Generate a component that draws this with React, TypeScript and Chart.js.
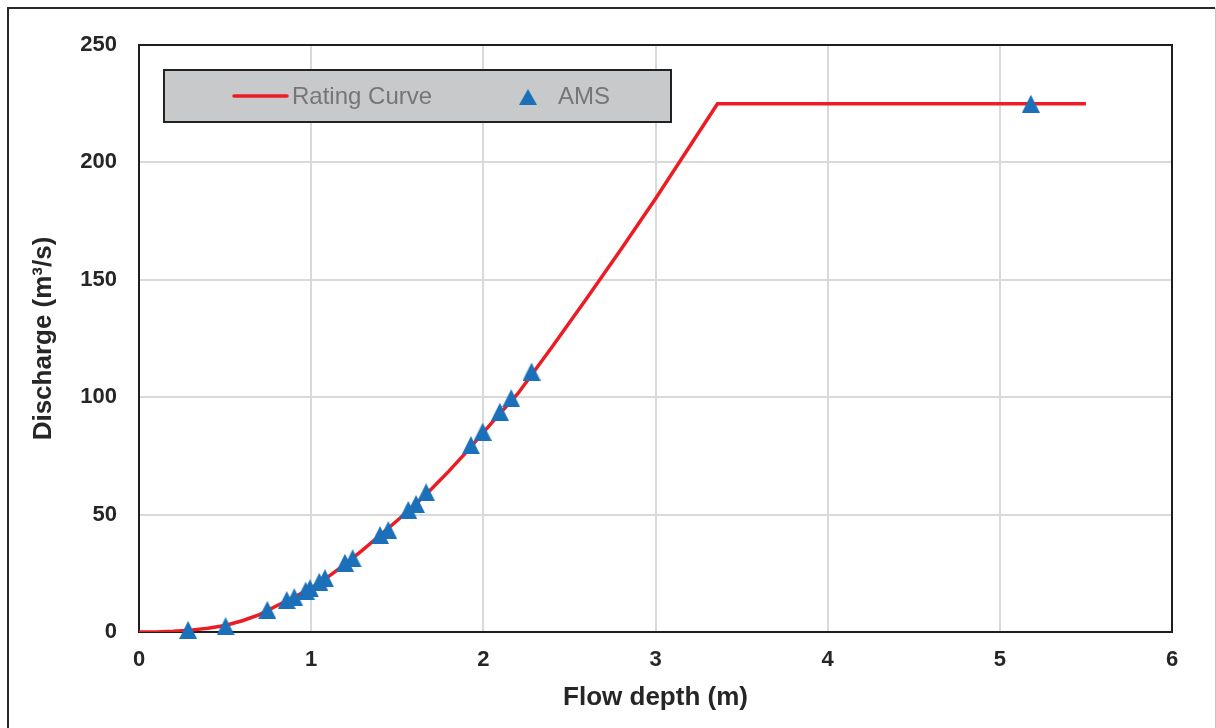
import React, { useEffect, useRef } from 'react';
import { Chart, registerables } from 'chart.js';

Chart.register(...registerables);

// Rating curve (flow depth in m, discharge in m3/s)
const curveDepth = [0, 0.1, 0.2, 0.3, 0.4, 0.5, 0.6, 0.7, 0.8, 0.9, 1.0, 1.1, 1.2, 1.3, 1.4, 1.5, 1.6, 1.7, 1.8, 1.9, 2.0, 2.1, 2.2, 2.4, 2.6, 2.8, 3.0, 3.2, 3.36, 5.5];
const curveDischarge = [0, 0.05, 0.3, 0.8, 1.6, 2.8, 4.8, 7.4, 11.2, 14.8, 18.7, 23.6, 29.0, 35.0, 41.2, 47.5, 54.0, 61.0, 68.5, 76.5, 85.0, 93.3, 101.5, 121.5, 142.0, 163.0, 184.5, 207.0, 225.0, 225.0];

// Annual maximum series (AMS)
const amsDepth = [0.285, 0.503, 0.745, 0.858, 0.902, 0.968, 0.993, 1.047, 1.08, 1.196, 1.241, 1.40, 1.448, 1.564, 1.609, 1.668, 1.928, 1.996, 2.096, 2.162, 2.28, 5.18];
const amsDischarge = [0.9, 2.5, 9.4, 13.6, 14.8, 17.6, 18.6, 21.4, 22.9, 29.5, 31.4, 41.3, 43.4, 52.0, 54.5, 59.5, 79.6, 85.3, 93.8, 99.6, 110.9, 225.0];

const seriesLabels = ['Rating Curve', 'AMS'];
const xAxisRange = [0, 6];
const yAxisRange = [0, 250];
const xStep = 1;
const yStep = 50;

const FONT = "'Liberation Sans', Arial, Helvetica, sans-serif";
const RED = '#ec1c24';
const BLUE = '#1b70b9';

function makeTriangle(size: number, color: string): HTMLCanvasElement {
  const c = document.createElement('canvas');
  c.width = size;
  c.height = size;
  const g = c.getContext('2d')!;
  g.fillStyle = color;
  g.beginPath();
  g.moveTo(size / 2, 0);
  g.lineTo(size, size);
  g.lineTo(0, size);
  g.closePath();
  g.fill();
  return c;
}

const framePlugin = {
  id: 'excelFrames',
  beforeDraw(chart: any) {
    const { ctx, width, height } = chart;
    ctx.save();
    ctx.fillStyle = '#ffffff';
    ctx.fillRect(0, 0, width, height);
    ctx.strokeStyle = '#2a2a2a';
    ctx.lineWidth = 2;
    ctx.beginPath();
    ctx.moveTo(8, height + 2);
    ctx.lineTo(8, 8);
    ctx.lineTo(width - 1, 8);
    ctx.stroke();
    ctx.strokeStyle = '#c4c4c4';
    ctx.lineWidth = 1;
    ctx.beginPath();
    ctx.moveTo(width - 0.5, 8);
    ctx.lineTo(width - 0.5, height);
    ctx.stroke();
    ctx.restore();
  },
  beforeDatasetsDraw(chart: any) {
    const { ctx, chartArea } = chart;
    ctx.save();
    ctx.strokeStyle = '#1e1e1e';
    ctx.lineWidth = 2;
    ctx.strokeRect(chartArea.left, chartArea.top, chartArea.right - chartArea.left, chartArea.bottom - chartArea.top);
    ctx.restore();
  },
  afterDatasetsDraw(chart: any) {
    const { ctx } = chart;
    const bx = 164, by = 70, bw = 507, bh = 52;
    ctx.save();
    ctx.fillStyle = '#c8c9cb';
    ctx.fillRect(bx, by, bw, bh);
    ctx.strokeStyle = '#222222';
    ctx.lineWidth = 2;
    ctx.strokeRect(bx, by, bw, bh);
    const cy = by + bh / 2;
    const ds = chart.data.datasets;
    ctx.font = `24px ${FONT}`;
    ctx.textBaseline = 'middle';
    ctx.textAlign = 'left';
    // line entry
    ctx.strokeStyle = ds[1].borderColor;
    ctx.lineWidth = 3.5;
    ctx.lineCap = 'round';
    ctx.beginPath();
    ctx.moveTo(234, cy);
    ctx.lineTo(287, cy);
    ctx.stroke();
    ctx.fillStyle = '#767676';
    ctx.fillText(ds[1].label, 292, cy + 1);
    // marker entry
    const img = ds[0].pointStyle as HTMLCanvasElement;
    ctx.drawImage(img, 528 - img.width / 2, cy + 1 - (img.height - 2) / 2, img.width, img.height - 2);
    ctx.fillStyle = '#767676';
    ctx.fillText(ds[0].label, 558, cy + 1);
    ctx.restore();
  },
};

export default function App() {
  const canvasRef = useRef<HTMLCanvasElement | null>(null);

  useEffect(() => {
    const canvas = canvasRef.current;
    if (!canvas) return;
    const curve = curveDepth.map((x, i) => ({ x, y: curveDischarge[i] }));
    const ams = amsDepth.map((x, i) => ({ x, y: amsDischarge[i] }));
    const tri = makeTriangle(18, BLUE);

    const chart = new Chart(canvas, {
      type: 'scatter',
      data: {
        datasets: [
          {
            label: seriesLabels[1],
            data: ams,
            pointStyle: tri,
            pointRadius: 9,
            pointHoverRadius: 9,
            backgroundColor: BLUE,
            borderColor: BLUE,
            borderWidth: 0,
            showLine: false,
            clip: false,
            order: 1,
          },
          {
            label: seriesLabels[0],
            data: curve,
            showLine: true,
            borderColor: RED,
            backgroundColor: RED,
            borderWidth: 3.5,
            pointRadius: 0,
            pointHoverRadius: 0,
            tension: 0,
            fill: false,
            order: 2,
          },
        ],
      },
      options: {
        animation: false,
        responsive: false,
        events: [],
        layout: { padding: { top: 45, right: 44, left: 0, bottom: 0 } },
        plugins: {
          legend: { display: false },
          tooltip: { enabled: false },
        },
        scales: {
          x: {
            type: 'linear',
            min: xAxisRange[0],
            max: xAxisRange[1],
            afterFit(scale: any) {
              scale.height = 96;
            },
            ticks: {
              stepSize: xStep,
              padding: 15,
              color: '#262626',
              font: { family: FONT, size: 22, weight: 'bold' },
            },
            grid: { color: '#d9d9d9', lineWidth: 2, drawTicks: false },
            border: { display: false },
            title: {
              display: true,
              text: 'Flow depth (m)',
              color: '#262626',
              font: { family: FONT, size: 26, weight: 'bold' },
              padding: { top: 0, bottom: 14.4 },
            },
          },
          y: {
            type: 'linear',
            min: yAxisRange[0],
            max: yAxisRange[1],
            afterFit(scale: any) {
              scale.width = 139;
            },
            ticks: {
              stepSize: yStep,
              padding: 22,
              color: '#262626',
              font: { family: FONT, size: 22, weight: 'bold' },
            },
            grid: { color: '#d9d9d9', lineWidth: 2, drawTicks: false },
            border: { display: false },
            title: {
              display: true,
              text: 'Discharge (m³/s)',
              color: '#262626',
              font: { family: FONT, size: 26, weight: 'bold' },
              padding: { top: 28.4, bottom: 0 },
            },
          },
        },
      },
      plugins: [framePlugin],
    } as any);

    return () => {
      chart.destroy();
    };
  }, []);

  return (
    <div style={{ position: 'absolute', left: 0, top: 0, width: 1216, height: 728, overflow: 'hidden' }}>
      <canvas ref={canvasRef} width={1216} height={728} style={{ display: 'block', width: 1216, height: 728 }} />
    </div>
  );
}
